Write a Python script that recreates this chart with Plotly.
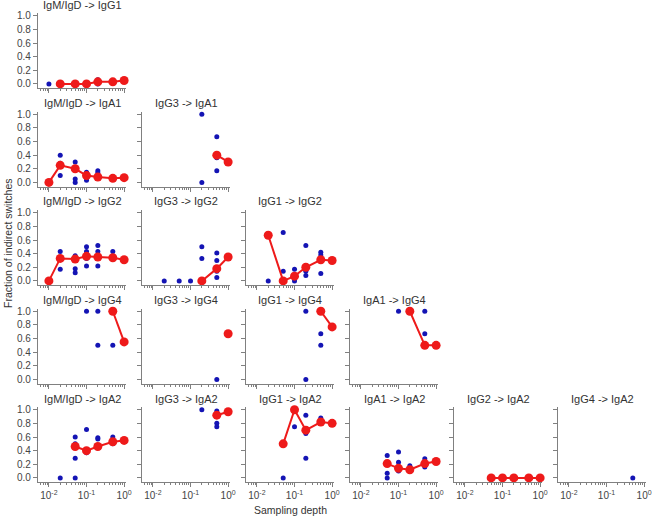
import plotly.graph_objects as go

# ---------------- data (sampling depth, fraction of indirect switches) ----------------
titles = ["IgM/IgD -> IgG1",
          "IgM/IgD -> IgA1", "IgG3 -> IgA1",
          "IgM/IgD -> IgG2", "IgG3 -> IgG2", "IgG1 -> IgG2",
          "IgM/IgD -> IgG4", "IgG3 -> IgG4", "IgG1 -> IgG4", "IgA1 -> IgG4",
          "IgM/IgD -> IgA2", "IgG3 -> IgA2", "IgG1 -> IgA2", "IgA1 -> IgA2",
          "IgG2 -> IgA2", "IgG4 -> IgA2"]
rows = [0, 1, 1, 2, 2, 2, 3, 3, 3, 3, 4, 4, 4, 4, 4, 4]
cols = [0, 0, 1, 0, 1, 2, 0, 1, 2, 3, 0, 1, 2, 3, 4, 5]

# replicate values (blue)
igm_igg1_bx = [0.01, 0.02, 0.05, 0.1, 0.2, 0.2, 0.5, 1.0]
igm_igg1_by = [0.0, 0.0, 0.0, 0.0, 0.06, 0.0, 0.02, 0.04]
igm_iga1_bx = [0.02, 0.02, 0.02, 0.05, 0.05, 0.05, 0.05, 0.1, 0.1, 0.1, 0.2, 0.2, 0.5, 1.0]
igm_iga1_by = [0.40, 0.28, 0.10, 0.30, 0.22, 0.05, 0.0, 0.15, 0.13, 0.03, 0.17, 0.14, 0.06, 0.07]
igg3_iga1_bx = [0.2, 0.2, 0.5, 0.5, 0.5]
igg3_iga1_by = [1.0, 0.0, 0.67, 0.36, 0.17]
igm_igg2_bx = [0.02, 0.02, 0.05, 0.05, 0.05, 0.05, 0.1, 0.1, 0.1, 0.1, 0.2, 0.2, 0.2, 0.5, 0.5]
igm_igg2_by = [0.43, 0.17, 0.37, 0.33, 0.18, 0.12, 0.50, 0.43, 0.33, 0.22, 0.52, 0.43, 0.22, 0.43, 0.33]
igg3_igg2_bx = [0.02, 0.05, 0.1, 0.2, 0.2, 0.5, 0.5, 0.5, 0.5]
igg3_igg2_by = [0.0, 0.0, 0.0, 0.50, 0.33, 0.41, 0.30, 0.14, 0.05]
igg1_igg2_bx = [0.02, 0.05, 0.05, 0.1, 0.1, 0.2, 0.2, 0.2, 0.5, 0.5, 0.5]
igg1_igg2_by = [0.0, 0.71, 0.14, 0.17, 0.0, 0.52, 0.14, 0.08, 0.42, 0.38, 0.11]
igm_igg4_bx = [0.1, 0.2, 0.2, 0.5]
igm_igg4_by = [1.0, 1.0, 0.5, 0.5]
igg3_igg4_bx = [0.5]
igg3_igg4_by = [0.0]
igg1_igg4_bx = [0.2, 0.2, 0.5, 0.5]
igg1_igg4_by = [1.0, 0.0, 0.67, 0.5]
iga1_igg4_bx = [0.1, 0.5, 0.5]
iga1_igg4_by = [1.0, 1.0, 0.67]
igm_iga2_bx = [0.02, 0.05, 0.05, 0.05, 0.05, 0.1, 0.1, 0.2, 0.2, 0.5, 0.5]
igm_iga2_by = [0.0, 0.60, 0.50, 0.29, 0.0, 0.71, 0.37, 0.59, 0.57, 0.60, 0.50]
igg3_iga2_bx = [0.2, 0.5, 0.5, 0.5]
igg3_iga2_by = [1.0, 0.98, 0.80, 0.75]
igg1_iga2_bx = [0.05, 0.1, 0.2, 0.2, 0.2, 0.5]
igg1_iga2_by = [0.0, 0.75, 0.92, 0.65, 0.29, 0.88]
iga1_iga2_bx = [0.05, 0.05, 0.05, 0.1, 0.1, 0.1, 0.2, 0.2, 0.5, 0.5]
iga1_iga2_by = [0.33, 0.07, 0.0, 0.38, 0.23, 0.10, 0.18, 0.10, 0.28, 0.16]
igg2_iga2_bx = []
igg2_iga2_by = []
igg4_iga2_bx = [0.5]
igg4_iga2_by = [0.0]

# averages (red)
igm_igg1_rx = [0.02, 0.05, 0.1, 0.2, 0.5, 1.0]
igm_igg1_ry = [0.0, 0.0, 0.0, 0.03, 0.03, 0.05]
igm_iga1_rx = [0.01, 0.02, 0.05, 0.1, 0.2, 0.5, 1.0]
igm_iga1_ry = [0.0, 0.25, 0.20, 0.10, 0.08, 0.06, 0.07]
igg3_iga1_rx = [0.5, 1.0]
igg3_iga1_ry = [0.40, 0.30]
igm_igg2_rx = [0.01, 0.02, 0.05, 0.1, 0.2, 0.5, 1.0]
igm_igg2_ry = [0.0, 0.33, 0.32, 0.36, 0.35, 0.34, 0.31]
igg3_igg2_rx = [0.2, 0.5, 1.0]
igg3_igg2_ry = [0.0, 0.18, 0.35]
igg1_igg2_rx = [0.02, 0.05, 0.1, 0.2, 0.5, 1.0]
igg1_igg2_ry = [0.67, 0.0, 0.07, 0.20, 0.31, 0.30]
igm_igg4_rx = [0.5, 1.0]
igm_igg4_ry = [1.0, 0.55]
igg3_igg4_rx = [1.0]
igg3_igg4_ry = [0.67]
igg1_igg4_rx = [0.5, 1.0]
igg1_igg4_ry = [1.0, 0.77]
iga1_igg4_rx = [0.2, 0.5, 1.0]
iga1_igg4_ry = [1.0, 0.5, 0.5]
igm_iga2_rx = [0.05, 0.1, 0.2, 0.5, 1.0]
igm_iga2_ry = [0.46, 0.40, 0.46, 0.53, 0.55]
igg3_iga2_rx = [0.5, 1.0]
igg3_iga2_ry = [0.92, 0.97]
igg1_iga2_rx = [0.05, 0.1, 0.2, 0.5, 1.0]
igg1_iga2_ry = [0.50, 1.0, 0.70, 0.82, 0.80]
iga1_iga2_rx = [0.05, 0.1, 0.2, 0.5, 1.0]
iga1_iga2_ry = [0.21, 0.14, 0.12, 0.21, 0.24]
igg2_iga2_rx = [0.05, 0.1, 0.2, 0.5, 1.0]
igg2_iga2_ry = [0.0, 0.0, 0.0, 0.0, 0.0]
igg4_iga2_rx = []
igg4_iga2_ry = []

blue_sets = [(igm_igg1_bx, igm_igg1_by), (igm_iga1_bx, igm_iga1_by), (igg3_iga1_bx, igg3_iga1_by),
             (igm_igg2_bx, igm_igg2_by), (igg3_igg2_bx, igg3_igg2_by), (igg1_igg2_bx, igg1_igg2_by),
             (igm_igg4_bx, igm_igg4_by), (igg3_igg4_bx, igg3_igg4_by), (igg1_igg4_bx, igg1_igg4_by),
             (iga1_igg4_bx, iga1_igg4_by), (igm_iga2_bx, igm_iga2_by), (igg3_iga2_bx, igg3_iga2_by),
             (igg1_iga2_bx, igg1_iga2_by), (iga1_iga2_bx, iga1_iga2_by), (igg2_iga2_bx, igg2_iga2_by),
             (igg4_iga2_bx, igg4_iga2_by)]
red_sets = [(igm_igg1_rx, igm_igg1_ry), (igm_iga1_rx, igm_iga1_ry), (igg3_iga1_rx, igg3_iga1_ry),
            (igm_igg2_rx, igm_igg2_ry), (igg3_igg2_rx, igg3_igg2_ry), (igg1_igg2_rx, igg1_igg2_ry),
            (igm_igg4_rx, igm_igg4_ry), (igg3_igg4_rx, igg3_igg4_ry), (igg1_igg4_rx, igg1_igg4_ry),
            (iga1_igg4_rx, iga1_igg4_ry), (igm_iga2_rx, igm_iga2_ry), (igg3_iga2_rx, igg3_iga2_ry),
            (igg1_iga2_rx, igg1_iga2_ry), (iga1_iga2_rx, iga1_iga2_ry), (igg2_iga2_rx, igg2_iga2_ry),
            (igg4_iga2_rx, igg4_iga2_ry)]

y_ticks = [0.0, 0.2, 0.4, 0.6, 0.8, 1.0]
y_ticktext = ["0.0", "0.2", "0.4", "0.6", "0.8", "1.0"]
x_ticks = [0.01, 0.1, 1.0]
x_ticktext = ["10<sup>-2</sup>", "10<sup>-1</sup>", "10<sup>0</sup>"]
x_minor = [0.006, 0.007, 0.008, 0.009,
           0.02, 0.03, 0.04, 0.05, 0.06, 0.07, 0.08, 0.09,
           0.2, 0.3, 0.4, 0.5, 0.6, 0.7, 0.8, 0.9]

# ---------------- layout ----------------
W, H = 657, 518
FONT = "Liberation Sans, Arial, sans-serif"
AX = "#808080"
TXT = "#333333"
TICKTXT = "#444444"
BLUE = "#1414b4"
RED = "#ee1a1a"

left0, pw, cstep = 38, 88, 104
bot4, ph, rstep = 482, 75, 98.5


def px(x):
    return x / W


def py(y):
    return 1 - y / H


fig = go.Figure()
annotations = []
layout = dict(width=W, height=H, margin=dict(l=0, r=0, t=0, b=0, autoexpand=False),
              paper_bgcolor="white", plot_bgcolor="white", showlegend=False,
              font=dict(family=FONT, color=TXT))

for i, (t, r, c) in enumerate(zip(titles, rows, cols)):
    n = i + 1
    xs = "" if n == 1 else str(n)
    x0 = left0 + cstep * c
    x1 = x0 + pw
    yb = bot4 - rstep * (4 - r)
    yt = yb - ph
    layout["xaxis" + xs] = dict(
        domain=[px(x0), px(x1)], anchor="y" + xs, type="log", range=[-2.29, 0.05],
        showline=True, linecolor=AX, linewidth=1.3, showgrid=False, zeroline=False,
        ticks="outside", ticklen=4, tickwidth=1, tickcolor=AX,
        tickvals=x_ticks, ticktext=x_ticktext, showticklabels=(r == 4),
        tickfont=dict(size=10, color=TICKTXT, family=FONT),
        minor=dict(tickvals=x_minor, ticks="outside", ticklen=2, tickwidth=1,
                   tickcolor=AX, showgrid=False),
    )
    layout["yaxis" + xs] = dict(
        domain=[py(yb), py(yt)], anchor="x" + xs, range=[-0.06, 1.04],
        showline=True, linecolor=AX, linewidth=1.3, showgrid=False, zeroline=False,
        ticks="outside", ticklen=4, tickwidth=1, tickcolor=AX,
        tickvals=y_ticks, ticktext=y_ticktext, showticklabels=(c == 0),
        tickfont=dict(size=10, color=TICKTXT, family=FONT),
    )
    bx, by = blue_sets[i]
    rx, ry = red_sets[i]
    fig.add_trace(go.Scatter(x=bx, y=by, mode="markers", xaxis="x" + xs, yaxis="y" + xs,
                             marker=dict(color=BLUE, size=5, line=dict(width=0)),
                             cliponaxis=False))
    fig.add_trace(go.Scatter(x=rx, y=ry, mode="lines+markers", xaxis="x" + xs, yaxis="y" + xs,
                             line=dict(color=RED, width=2),
                             marker=dict(color=RED, size=9, line=dict(width=0)),
                             cliponaxis=False))
    annotations.append(dict(text=t, x=px((x0 + x1) / 2), y=py(yt - 8.5),
                            xref="paper", yref="paper", showarrow=False,
                            xanchor="center", yanchor="middle",
                            font=dict(size=11, color=TXT, family=FONT)))

annotations.append(dict(text="Sampling depth", x=px(290), y=py(510), xref="paper",
                        yref="paper", showarrow=False, xanchor="center", yanchor="middle",
                        font=dict(size=10.5, color=TXT, family=FONT)))
annotations.append(dict(text="Fraction of indirect switches", x=px(8), y=py(243),
                        xref="paper", yref="paper", showarrow=False, textangle=-90,
                        xanchor="center", yanchor="middle",
                        font=dict(size=10.5, color=TXT, family=FONT)))
layout["annotations"] = annotations
fig.update_layout(**layout)
# remove the default page margin so the figure sits at the window's top-left corner
fig.write_html("out.html", config={"displayModeBar": False},
               post_script="document.body.style.margin='0';document.body.style.overflow='hidden';")
